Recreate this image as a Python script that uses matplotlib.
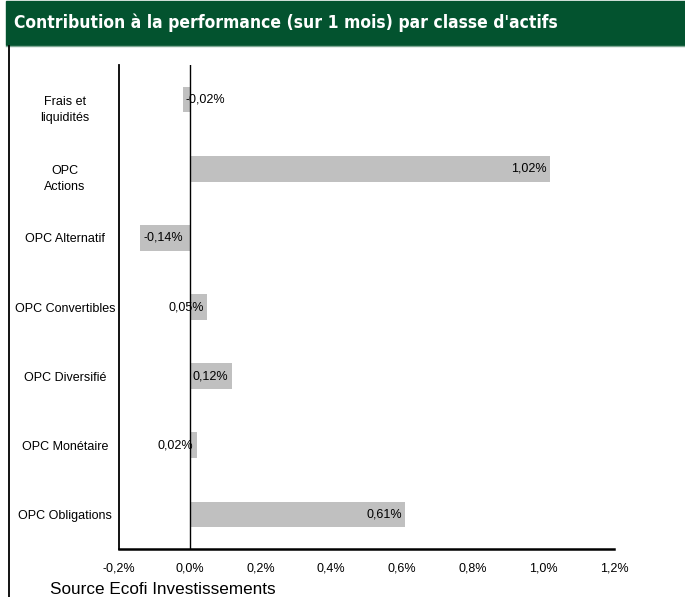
import matplotlib
matplotlib.use('Agg')
import matplotlib.pyplot as plt
import matplotlib.transforms as mtransforms
from matplotlib.patches import Rectangle
from matplotlib.lines import Line2D

# data
categories = ['Frais et\nliquidités', 'OPC\nActions', 'OPC Alternatif', 'OPC Convertibles',
              'OPC Diversifié', 'OPC Monétaire', 'OPC Obligations']
values     = [-0.02, 1.02, -0.14, 0.05, 0.12, 0.02, 0.61]
xticks     = [-0.2, 0.0, 0.2, 0.4, 0.6, 0.8, 1.0, 1.2]

title  = "Contribution à la performance (sur 1 mois) par classe d'actifs"
source = 'Source Ecofi Investissements'

GREEN = '#03532F'
GREY  = '#C0C0C0'

plt.rcParams['font.family'] = ['Liberation Sans', 'DejaVu Sans']

fig = plt.figure(figsize=(6.85, 5.97), dpi=100)

# header band + left border
fig.patches.append(Rectangle((6/685, 1 - 45/597), 1 - 6/685, 44/597,
                             transform=fig.transFigure, color=GREEN, zorder=0))
fig.lines.append(Line2D([6/685, 1], [1 - 45.5/597, 1 - 45.5/597],
                        transform=fig.transFigure, color='#7FA894', lw=1))
fig.lines.append(Line2D([8.5/685, 8.5/685], [0, 1 - 46/597],
                        transform=fig.transFigure, color='black', lw=1.3))
fig.text(14/685, 1 - 23/597, title, color='white', fontsize=12.5, fontweight='bold',
         family='DejaVu Sans', fontstretch='condensed', va='center', ha='left')

ax = fig.add_axes([119/685, 1 - 549/597, (614 - 119)/685, (549 - 65)/597])
ypos = list(range(len(categories)))
ax.barh(ypos, values, height=0.37, color=GREY, zorder=2)
ax.axvline(0, color='black', lw=1, zorder=3)

for y, v in zip(ypos, values):
    lab = f'{v:.2f}%'.replace('.', ',')
    if v >= 0:
        ax.text(v - 0.01, y, lab, ha='right', va='center', fontsize=9, zorder=4)
    else:
        ax.text(v + 0.008, y, lab, ha='left', va='center', fontsize=9, zorder=4)

ax.set_xlim(-0.2, 1.2)
ax.set_ylim(len(categories) - 0.5, -0.5)
ax.set_xticks(xticks)
ax.set_xticklabels([f'{t:.1f}%'.replace('.', ',') for t in xticks], fontsize=9)
ax.set_yticks(ypos)
ax.set_yticklabels(categories, fontsize=9, ha='center', multialignment='center',
                   linespacing=1.45)
ax.tick_params(axis='both', length=0)
ax.tick_params(axis='y', pad=39)
ax.tick_params(axis='x', pad=10)
ax.spines['top'].set_visible(False)
ax.spines['right'].set_visible(False)
ax.spines['left'].set_linewidth(1.3)
ax.spines['bottom'].set_linewidth(1.8)

# two-line labels sit a little lower than the bar centre in the original
for lbl in ax.get_yticklabels():
    if '\n' in lbl.get_text():
        shift = mtransforms.ScaledTranslation(0, -7/100, fig.dpi_scale_trans)
        lbl.set_transform(lbl.get_transform() + shift)

fig.text(50/685, 1 - 589/597, source, fontsize=12.3, va='center', ha='left')

plt.savefig('out.png', dpi=100)
